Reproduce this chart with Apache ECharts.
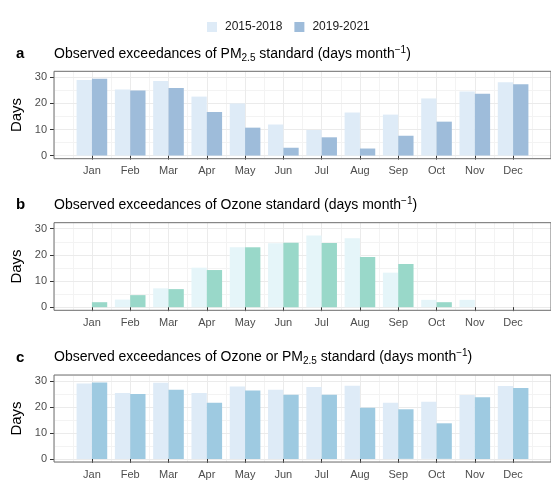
<!DOCTYPE html>
<html>
<head>
<meta charset="utf-8">
<script src="https://cdn.jsdelivr.net/npm/echarts@6/dist/echarts.min.js"></script>
<style>
  html, body { margin: 0; padding: 0; background: #fff; }
  #chart { width: 551px; height: 480px; }
</style>
</head>
<body>
<div id="chart"></div>
<script>
const months = ['Jan', 'Feb', 'Mar', 'Apr', 'May', 'Jun', 'Jul', 'Aug', 'Sep', 'Oct', 'Nov', 'Dec']
const periods = ['2015-2018', '2019-2021']
const yTicks = [0, 10, 20, 30]

// days per month with an exceedance
const pmEarly = [29.0, 25.3, 28.6, 22.6, 20.0, 11.9, 9.8, 16.5, 15.7, 21.9, 24.6, 28.1]
const pmLate = [29.4, 24.9, 25.9, 16.7, 10.7, 3.0, 7.0, 2.7, 7.6, 13.0, 23.7, 27.3]
const ozEarly = [0, 2.9, 7.2, 15.1, 22.9, 24.4, 27.4, 26.4, 13.2, 2.8, 2.8, 0]
const ozLate = [1.9, 4.6, 6.9, 14.2, 22.9, 24.6, 24.5, 19.2, 16.5, 1.9, 0, 0]
const anyEarly = [29.0, 25.4, 29.3, 25.4, 27.9, 26.6, 27.7, 28.2, 21.6, 22.0, 24.6, 28.1]
const anyLate = [29.4, 25.0, 26.6, 21.6, 26.3, 24.7, 24.7, 19.7, 19.1, 13.7, 23.7, 27.3]

const font = 'Liberation Sans, Arial, Helvetica, sans-serif'

const panels = [
  { letter: 'a', top: 71.3, height: 87.4, early: pmEarly, late: pmLate, colors: ['#DEEBF7', '#9EBCDA'],
    title: '{t|Observed exceedances of PM}{sub|2.5}{t| standard (days month}{sup|−1}{t|)}' },
  { letter: 'b', top: 222.7, height: 87.6, early: ozEarly, late: ozLate, colors: ['#E5F5F9', '#99D8C9'],
    title: '{t|Observed exceedances of Ozone standard (days month}{sup|−1}{t|)}' },
  { letter: 'c', top: 375, height: 87.5, early: anyEarly, late: anyLate, colors: ['#DEEBF7', '#9ECAE1'],
    title: '{t|Observed exceedances of Ozone or PM}{sub|2.5}{t| standard (days month}{sup|−1}{t|)}' },
]

const xMin = 0.01
const xMax = 12.99
const yMin = -1.2
const yMax = 32.3

const rich = {
  t: { fontSize: 14, fontWeight: 'normal', fontFamily: font, color: '#000', lineHeight: 18 },
  sub: { fontSize: 10, fontWeight: 'normal', fontFamily: font, color: '#000', lineHeight: 9, verticalAlign: 'bottom' },
  sup: { fontSize: 10, fontWeight: 'normal', fontFamily: font, color: '#000', lineHeight: 10, verticalAlign: 'top' },
}

const grid = []
const xAxis = []
const yAxis = []
const series = []
const title = []

panels.forEach((p, i) => {
  grid.push({
    left: 54, right: -10, top: p.top, height: p.height,
    show: true, borderColor: '#6e6e6e', borderWidth: 1, backgroundColor: 'transparent', z: 5
  })
  // main x axis: month ticks and labels
  xAxis.push({
    type: 'value', gridIndex: i, min: xMin, max: xMax, splitNumber: 12, z: 1,
    axisLine: { show: false },
    axisTick: { show: true, length: 4, customValues: months.map((m, k) => k + 1), lineStyle: { color: '#333' } },
    axisLabel: {
      customValues: months.map((m, k) => k + 1),
      formatter: v => months[v - 1] || '',
      color: '#4D4D4D', fontSize: 11, fontFamily: font, margin: 7
    },
    splitLine: { show: true, lineStyle: { color: '#EBEBEB', width: 1 } }
  })
  // minor vertical grid at half months
  xAxis.push({
    type: 'value', gridIndex: i, min: xMin, max: xMax, splitNumber: 26, position: 'top', z: 0,
    axisLine: { show: false }, axisTick: { show: false }, axisLabel: { show: false },
    splitLine: { show: true, lineStyle: { color: '#F3F3F3', width: 1 } }
  })
  yAxis.push({
    type: 'value', gridIndex: i, min: yMin, max: yMax, splitNumber: 3, z: 1,
    name: 'Days', nameLocation: 'middle', nameGap: 29,
    nameTextStyle: { fontSize: 15, color: '#000', fontFamily: font },
    axisLine: { show: false },
    axisTick: { show: true, length: 4, customValues: yTicks, lineStyle: { color: '#333' } },
    axisLabel: {
      customValues: yTicks,
      color: '#4D4D4D', fontSize: 11, fontFamily: font, margin: 7
    },
    splitLine: { show: true, lineStyle: { color: '#EBEBEB', width: 1 } }
  })
  yAxis.push({
    type: 'value', gridIndex: i, min: yMin, max: yMax, splitNumber: 6, position: 'right', z: 0,
    axisLine: { show: false }, axisTick: { show: false }, axisLabel: { show: false },
    splitLine: { show: true, lineStyle: { color: '#F3F3F3', width: 1 } }
  })
  ;[p.early, p.late].forEach((vals, j) => {
    series.push({
      name: periods[j],
      type: 'bar',
      xAxisIndex: i * 2,
      yAxisIndex: i * 2,
      barGap: '0%',
      barCategoryGap: '20%',
      itemStyle: { color: p.colors[j] },
      data: vals.map((v, k) => [k + 1, v]),
      silent: true
    })
  })
  title.push({
    text: p.letter, left: 11, top: p.top - 30,
    textStyle: { fontSize: 15, fontWeight: 'bold', color: '#000', fontFamily: font }
  })
  title.push({
    text: p.title, left: 49, top: p.top - 31.5,
    textStyle: { rich: rich }
  })
})

const option = {
  animation: false,
  title: title,
  legend: {
    data: periods,
    left: 202, top: 16,
    icon: 'rect', itemWidth: 10, itemHeight: 10, itemGap: 12,
    selectedMode: false,
    textStyle: { fontSize: 12, color: '#1a1a1a', fontFamily: font, padding: [0, 0, 0, 3] }
  },
  grid: grid,
  xAxis: xAxis,
  yAxis: yAxis,
  series: series
}

const chart = echarts.init(document.getElementById('chart'), null, { renderer: 'canvas' })
chart.setOption(option)
</script>
</body>
</html>
